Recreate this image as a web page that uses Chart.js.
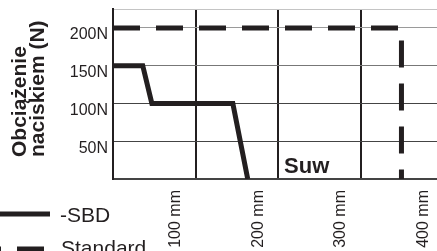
<!DOCTYPE html>
<html>
<head>
<meta charset="utf-8">
<script src="https://cdn.jsdelivr.net/npm/chart.js@4"></script>
<style>
  html, body { margin: 0; padding: 0; background: #fff; overflow: hidden; }
  #wrap { width: 437px; height: 251px; position: relative; }
</style>
</head>
<body>
<div id="wrap"><canvas id="chart"></canvas></div>
<script>
// values
const sbdStroke = [0, 36, 47, 145, 163]
const sbdForce = [150, 150, 100, 100, 0]
const stdStroke = [0, 349, 349]
const stdForce = [200, 200, 0]
const xTickValues = [100, 200, 300, 400]
const yTickValues = [0, 50, 100, 150, 200, 225]
const seriesNames = ['-SBD', 'Standard']
const yTitleLines = ['Obciążenie', 'naciskiem (N)']
const strokeNote = 'Suw'

const ink = '#231f20'
const font = '"Liberation Sans", Arial, sans-serif'

const toPoints = (xs, ys) => xs.map((v, i) => ({ x: v, y: ys[i] }))

// y title, "Suw" note and the legend are drawn by hand
const extras = {
  id: 'extras',
  afterDraw(chart) {
    const ctx = chart.ctx
    const xs = chart.scales.x
    const ys = chart.scales.y
    ctx.save()
    ctx.fillStyle = ink
    ctx.textAlign = 'left'
    ctx.textBaseline = 'alphabetic'

    ctx.font = 'bold 21px ' + font
    ;[26, 44].forEach((bx, i) => {
      ctx.save()
      ctx.translate(bx, 157)
      ctx.rotate(-Math.PI / 2)
      ctx.fillText(yTitleLines[i], 0, 0)
      ctx.restore()
    })

    ctx.font = 'bold 22px ' + font
    ctx.fillText(strokeNote, xs.getPixelForValue(207), ys.getPixelForValue(8))

    // legend
    ctx.strokeStyle = ink
    ctx.lineWidth = 5
    ctx.lineCap = 'butt'
    ctx.beginPath()
    ctx.moveTo(0, 214)
    ctx.lineTo(50, 214)
    ctx.stroke()
    ctx.setLineDash([27, 16])
    ctx.beginPath()
    ctx.moveTo(-26, 249)
    ctx.lineTo(50, 249)
    ctx.stroke()
    ctx.setLineDash([])

    ctx.font = '21px ' + font
    ctx.fillText(seriesNames[0], 60, 222)
    ctx.fillText(seriesNames[1], 61, 255)
    ctx.restore()
  }
}

new Chart(document.getElementById('chart'), {
  type: 'scatter',
  data: {
    datasets: [
      {
        label: seriesNames[0],
        data: toPoints(sbdStroke, sbdForce),
        showLine: true,
        borderColor: ink,
        borderWidth: 5,
        pointRadius: 0,
        tension: 0,
        borderJoinStyle: 'miter'
      },
      {
        label: seriesNames[1],
        data: toPoints(stdStroke, stdForce),
        showLine: true,
        borderColor: ink,
        borderWidth: 5,
        borderDash: [27, 16],
        borderCapStyle: 'butt',
        pointRadius: 0,
        tension: 0,
        borderJoinStyle: 'miter'
      }
    ]
  },
  options: {
    responsive: true,
    maintainAspectRatio: false,
    animation: false,
    layout: { padding: { top: 9, left: 0, right: 0, bottom: 0 } },
    plugins: {
      legend: { display: false },
      tooltip: { enabled: false }
    },
    scales: {
      x: {
        type: 'linear',
        min: 0,
        max: 392,
        afterBuildTicks: s => { s.ticks = xTickValues.map(v => ({ value: v })) },
        afterFit: s => { s.height = 72; s.paddingLeft = 0; s.paddingRight = 0 },
        grid: { color: ink, lineWidth: 2, drawTicks: false },
        border: { color: '#444', width: 1.5 },
        ticks: {
          autoSkip: false,
          minRotation: 90,
          maxRotation: 90,
          padding: 11,
          labelOffset: -20,
          color: ink,
          font: { family: font, size: 16 },
          callback: v => v + ' mm'
        }
      },
      y: {
        type: 'linear',
        min: 0,
        max: 225,
        afterBuildTicks: s => { s.ticks = yTickValues.map(v => ({ value: v })) },
        afterFit: s => { s.width = 113; s.paddingTop = 0; s.paddingBottom = 0 },
        grid: {
          drawTicks: false,
          lineWidth: 1,
          color: c => {
            const v = c.tick.value
            if (v === 225) return '#c4c4c4'
            if (v === 200) return '#9a9a9a'
            if (v === 150) return '#777'
            return '#444'
          }
        },
        border: { color: ink, width: 2 },
        ticks: {
          autoSkip: false,
          padding: 5,
          labelOffset: 7,
          color: ink,
          font: { family: font, size: 16 },
          callback: v => (v === 0 || v === 225) ? '' : v + 'N'
        }
      }
    }
  },
  plugins: [extras]
})
</script>
</body>
</html>
